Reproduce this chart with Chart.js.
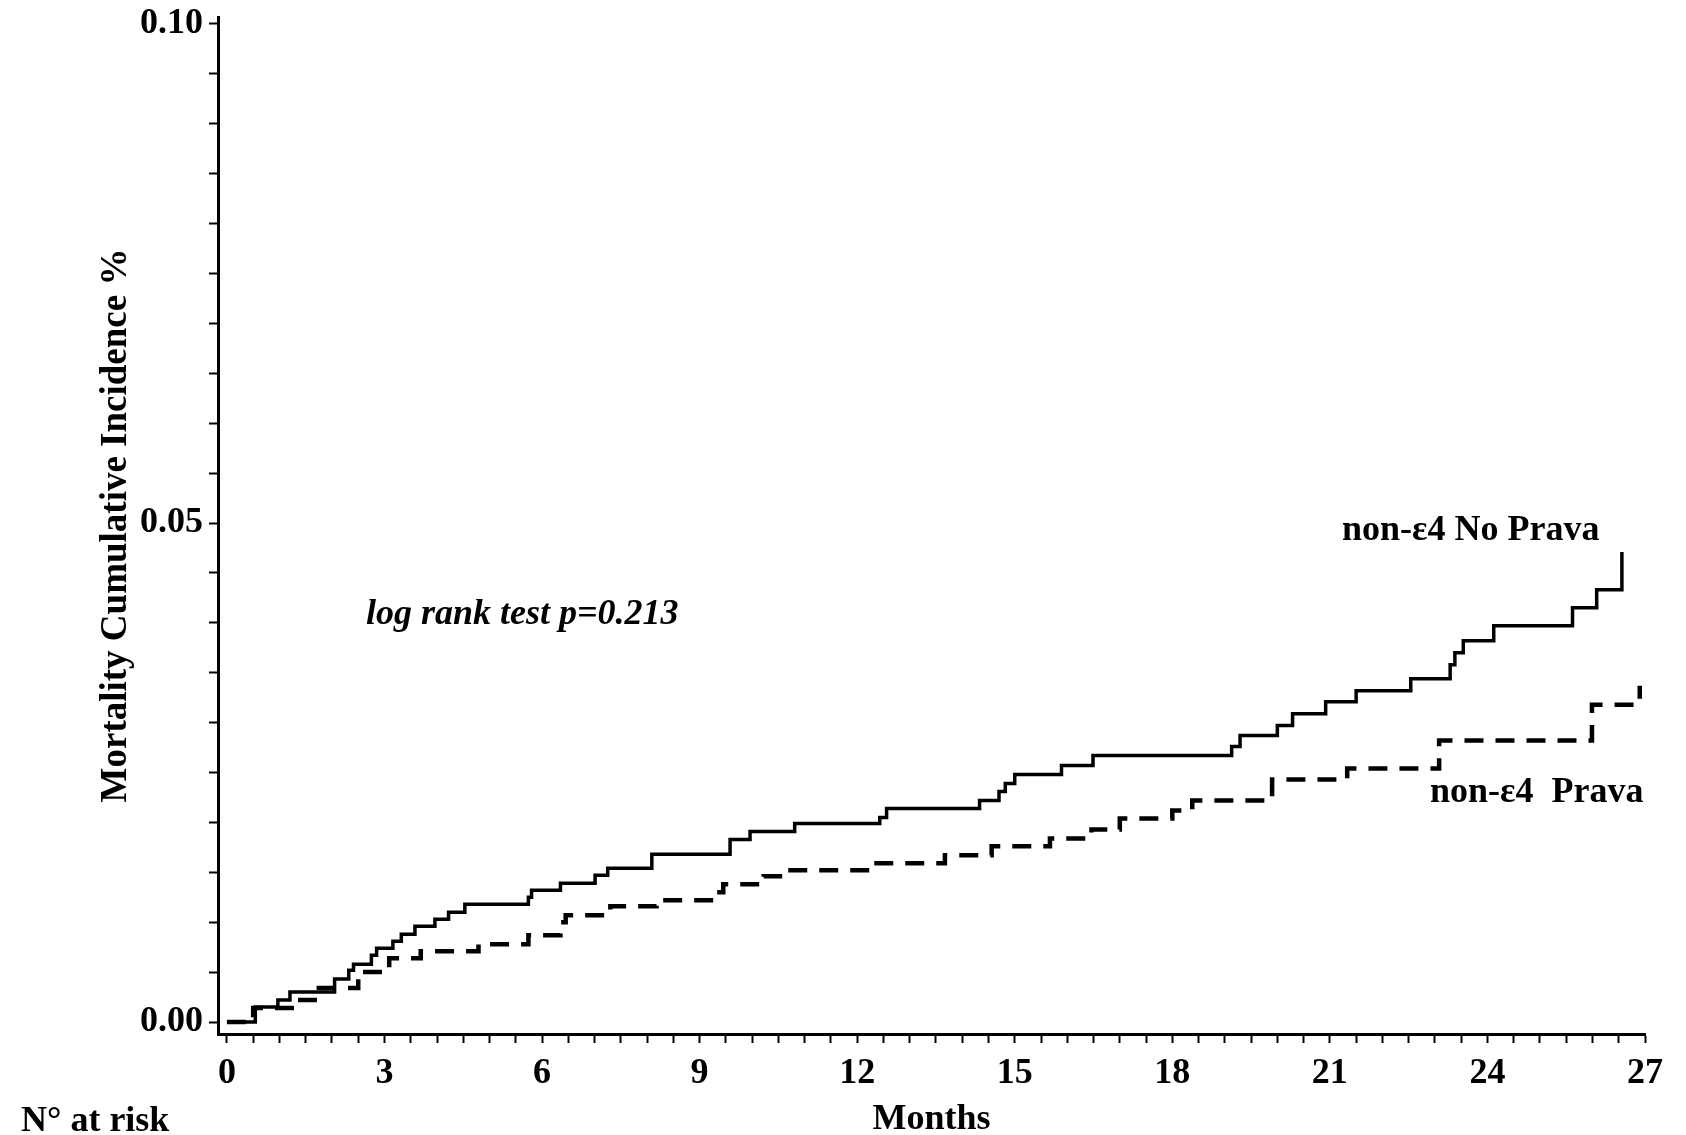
<!DOCTYPE html>
<html>
<head>
<meta charset="utf-8">
<script src="https://cdn.jsdelivr.net/npm/chart.js@4"></script>
<style>
  html, body { margin: 0; padding: 0; background: #ffffff; }
  #wrap { width: 1686px; height: 1135px; }
</style>
</head>
<body>
<div id="wrap"><canvas id="c" width="1686" height="1135"></canvas></div>
<script>
// ---- data ----
const noPravaTime = [0, 0.54, 0.97, 1.2, 2.05, 2.32, 2.41, 2.75, 2.85, 3.16, 3.32, 3.58, 3.96, 4.22, 4.53, 5.74, 5.8, 6.35, 7.01, 7.25, 8.09, 9.58, 9.96, 10.81, 12.43, 12.56, 14.33, 14.7, 14.82, 15.0, 15.89, 16.49, 19.13, 19.29, 20.0, 20.29, 20.92, 21.5, 22.54, 23.29, 23.38, 23.54, 24.12, 25.62, 26.08, 26.56];
const noPravaInc  = [0, 0.0015, 0.0022, 0.0030, 0.0043, 0.0052, 0.0058, 0.0067, 0.0074, 0.0081, 0.0088, 0.0096, 0.0103, 0.0110, 0.0118, 0.0125, 0.0132, 0.0139, 0.0147, 0.0154, 0.0168, 0.0183, 0.0191, 0.0199, 0.0205, 0.0214, 0.0222, 0.0231, 0.0239, 0.0248, 0.0257, 0.0267, 0.0276, 0.0287, 0.0297, 0.0309, 0.0321, 0.0332, 0.0344, 0.0358, 0.0370, 0.0382, 0.0397, 0.0415, 0.0433, 0.0471];

const pravaTime = [0, 0.5, 1.28, 1.75, 2.5, 3.09, 3.69, 4.79, 5.74, 6.35, 6.45, 7.3, 8.18, 9.3, 9.45, 10.22, 10.6, 12.24, 13.67, 14.56, 15.67, 16.46, 17.0, 18.0, 18.38, 19.9, 21.33, 23.08, 25.99, 26.9];
const pravaInc  = [0, 0.0014, 0.0022, 0.0034, 0.0050, 0.0064, 0.0071, 0.0078, 0.0087, 0.0100, 0.0107, 0.0116, 0.0122, 0.0130, 0.0138, 0.0146, 0.0152, 0.0159, 0.0167, 0.0176, 0.0184, 0.0193, 0.0204, 0.0212, 0.0222, 0.0243, 0.0254, 0.0282, 0.0318, 0.0337];

const xTickLabels = [0, 3, 6, 9, 12, 15, 18, 21, 24, 27];
const yTickLabels = [0.00, 0.05, 0.10];
const xMinorStep = 0.5;
const yMinorStep = 0.005;

const seriesNames = ['non-\u03B54 No Prava', 'non-\u03B54  Prava'];
const yTitle = 'Mortality Cumulative Incidence %';
const xTitle = 'Months';
const pText = 'log rank test p=0.213';
const riskText = 'N\u00B0 at risk';

// ---- chart ----
const FONT = '"Liberation Serif", "Times New Roman", serif';
const toPts = (t, v) => t.map((x, i) => ({ x: x, y: v[i] }));

const textPlugin = {
  id: 'texts',
  afterDraw(chart) {
    const ctx = chart.ctx;
    ctx.save();
    ctx.fillStyle = '#000';
    ctx.textBaseline = 'middle';
    ctx.textAlign = 'left';
    ctx.font = 'bold 36px ' + FONT;
    ctx.fillText(seriesNames[0], 1342, 531);
    ctx.fillText(seriesNames[1], 1430, 793);
    ctx.fillText(riskText, 21, 1122);
    ctx.font = 'italic bold 36px ' + FONT;
    ctx.fillText(pText, 366, 615);
    ctx.restore();
  }
};

new Chart(document.getElementById('c'), {
  type: 'line',
  data: {
    datasets: [
      {
        label: seriesNames[0],
        data: toPts(noPravaTime, noPravaInc),
        borderColor: '#000',
        borderWidth: 3.5,
        stepped: true,
        pointRadius: 0,
        fill: false
      },
      {
        label: seriesNames[1],
        data: toPts(pravaTime, pravaInc),
        borderColor: '#000',
        borderWidth: 4.5,
        borderDash: [19, 12],
        borderCapStyle: 'butt',
        stepped: true,
        pointRadius: 0,
        fill: false
      }
    ]
  },
  options: {
    responsive: false,
    animation: false,
    devicePixelRatio: 1,
    layout: { padding: { left: 88, right: 41, top: 17, bottom: 0 } },
    plugins: { legend: { display: false }, tooltip: { enabled: false } },
    scales: {
      x: {
        type: 'linear',
        min: -0.17,
        max: 27,
        afterBuildTicks(scale) {
          const t = [];
          for (let v = 0; v <= xTickLabels[xTickLabels.length - 1] + 1e-9; v += xMinorStep) t.push({ value: Math.round(v * 10) / 10 });
          scale.ticks = t;
        },
        afterFit(scale) { scale.height = 101; },
        grid: { drawOnChartArea: false, drawTicks: true, tickLength: 9, color: '#000', tickWidth: 2 },
        border: { display: true, color: '#000', width: 3 },
        ticks: {
          autoSkip: false,
          maxRotation: 0,
          padding: 9,
          color: '#000',
          font: { family: FONT, size: 36, weight: 'bold' },
          callback: (v) => xTickLabels.some(l => Math.abs(l - v) < 1e-6) ? String(v) : ''
        },
        title: {
          display: true,
          text: xTitle,
          color: '#000',
          font: { family: FONT, size: 36, weight: 'bold' },
          padding: { top: 0, bottom: -6 }
        }
      },
      y: {
        type: 'linear',
        min: -0.0012,
        max: 0.1007,
        afterBuildTicks(scale) {
          const t = [];
          const top = yTickLabels[yTickLabels.length - 1];
          for (let v = 0; v <= top + 1e-9; v += yMinorStep) t.push({ value: Math.round(v * 1000) / 1000 });
          scale.ticks = t;
        },
        afterFit(scale) {
          scale.width = 218 - 88;
          scale.paddingTop = 0;
          scale.paddingBottom = 0;
        },
        grid: { drawOnChartArea: false, drawTicks: true, tickLength: 9, color: '#000', tickWidth: 2 },
        border: { display: true, color: '#000', width: 3 },
        ticks: {
          autoSkip: false,
          padding: 6,
          color: '#000',
          font: { family: FONT, size: 36, weight: 'bold' },
          callback: (v) => yTickLabels.some(l => Math.abs(l - v) < 1e-9) ? v.toFixed(2) : ''
        },
        title: {
          display: true,
          text: yTitle,
          color: '#000',
          font: { family: FONT, size: 37, weight: 'bold' },
          padding: { top: 6, bottom: 0 }
        }
      }
    }
  },
  plugins: [textPlugin]
});
</script>
</body>
</html>
